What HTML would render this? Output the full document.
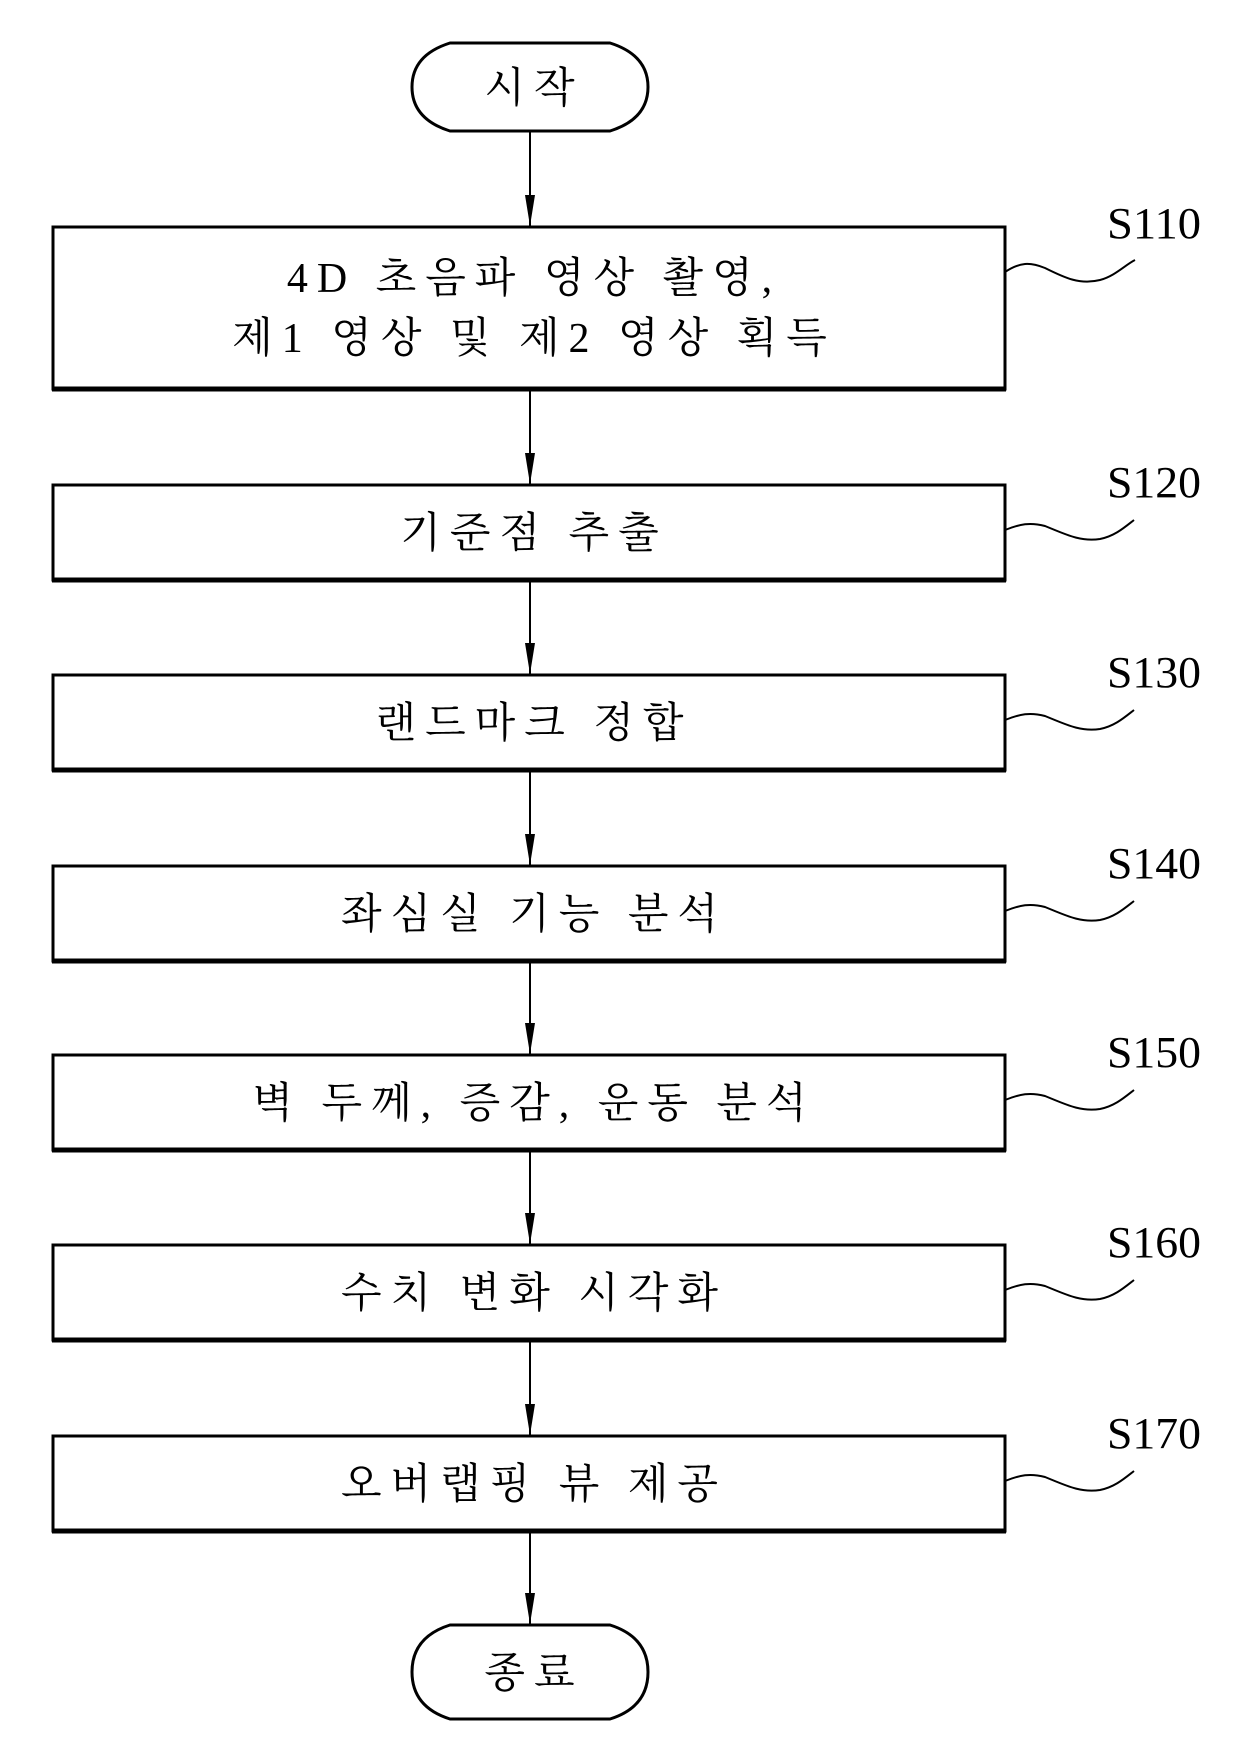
<!DOCTYPE html>
<html><head><meta charset="utf-8"><style>
html,body{margin:0;padding:0;background:#fff;}
svg{display:block;}
.t{font-family:"Liberation Serif","Noto Serif CJK SC","Noto Sans CJK KR",serif;font-size:42px;letter-spacing:9px;fill:#000;text-anchor:middle;}
.l{font-family:"Liberation Serif",serif;font-size:44px;fill:#000;}
</style></head><body>
<svg width="1240" height="1748" viewBox="0 0 1240 1748" xmlns="http://www.w3.org/2000/svg">
<g fill="none" stroke="#000">
<path d="M450,43 L610,43 Q648,55 648,87 Q648,119 610,131 L450,131 Q412,119 412,87 Q412,55 450,43 Z" stroke-width="3"/>
<path d="M450,1625 L610,1625 Q648,1637 648,1672 Q648,1707 610,1719 L450,1719 Q412,1707 412,1672 Q412,1637 450,1625 Z" stroke-width="3"/>
</g>
<g fill="#fff" stroke="#000" stroke-width="3">
<rect x="53" y="227" width="952" height="162"/>
<rect x="53" y="485" width="952" height="95"/>
<rect x="53" y="675" width="952" height="95"/>
<rect x="53" y="866" width="952" height="95"/>
<rect x="53" y="1055" width="952" height="95"/>
<rect x="53" y="1245" width="952" height="95"/>
<rect x="53" y="1436" width="952" height="95"/>
</g>
<g stroke="#000" stroke-width="5">
<line x1="52" y1="389" x2="1006" y2="389"/>
<line x1="52" y1="580" x2="1006" y2="580"/>
<line x1="52" y1="770" x2="1006" y2="770"/>
<line x1="52" y1="961" x2="1006" y2="961"/>
<line x1="52" y1="1150" x2="1006" y2="1150"/>
<line x1="52" y1="1340" x2="1006" y2="1340"/>
<line x1="52" y1="1531" x2="1006" y2="1531"/>
</g>
<g stroke="#000" stroke-width="2">
<line x1="530" y1="131" x2="530" y2="226"/>
<line x1="530" y1="391" x2="530" y2="484"/>
<line x1="530" y1="582" x2="530" y2="674"/>
<line x1="530" y1="772" x2="530" y2="865"/>
<line x1="530" y1="963" x2="530" y2="1054"/>
<line x1="530" y1="1152" x2="530" y2="1244"/>
<line x1="530" y1="1342" x2="530" y2="1435"/>
<line x1="530" y1="1533" x2="530" y2="1624"/>
</g>
<g fill="#000">
<polygon points="525,195 535,195 530,226"/>
<polygon points="525,453 535,453 530,484"/>
<polygon points="525,643 535,643 530,674"/>
<polygon points="525,834 535,834 530,865"/>
<polygon points="525,1023 535,1023 530,1054"/>
<polygon points="525,1213 535,1213 530,1244"/>
<polygon points="525,1404 535,1404 530,1435"/>
<polygon points="525,1593 535,1593 530,1624"/>
</g>
<g fill="none" stroke="#000" stroke-width="2">
<path d="M1005,272 C1020,262 1030,262 1045,268 C1065,278 1080,285 1100,280 C1115,276 1125,265 1135,260"/>
<path d="M1005,530 C1020,524 1030,522 1045,526 C1065,534 1080,542 1100,539 C1115,536 1125,527 1134,520"/>
<path d="M1005,720 C1020,714 1030,712 1045,716 C1065,724 1080,732 1100,729 C1115,726 1125,717 1134,710"/>
<path d="M1005,911 C1020,905 1030,903 1045,907 C1065,915 1080,923 1100,920 C1115,917 1125,908 1134,901"/>
<path d="M1005,1100 C1020,1094 1030,1092 1045,1096 C1065,1104 1080,1112 1100,1109 C1115,1106 1125,1097 1134,1090"/>
<path d="M1005,1290 C1020,1284 1030,1282 1045,1286 C1065,1294 1080,1302 1100,1299 C1115,1296 1125,1287 1134,1280"/>
<path d="M1005,1481 C1020,1475 1030,1473 1045,1477 C1065,1485 1080,1493 1100,1490 C1115,1487 1125,1478 1134,1471"/>
</g>
<g class="l">
<text x="1107" y="238" textLength="94" lengthAdjust="spacingAndGlyphs">S110</text>
<text x="1107" y="497" textLength="94" lengthAdjust="spacingAndGlyphs">S120</text>
<text x="1107" y="687" textLength="94" lengthAdjust="spacingAndGlyphs">S130</text>
<text x="1107" y="878" textLength="94" lengthAdjust="spacingAndGlyphs">S140</text>
<text x="1107" y="1067" textLength="94" lengthAdjust="spacingAndGlyphs">S150</text>
<text x="1107" y="1257" textLength="94" lengthAdjust="spacingAndGlyphs">S160</text>
<text x="1107" y="1448" textLength="94" lengthAdjust="spacingAndGlyphs">S170</text>
</g>
<g class="t">
<text x="534" y="102">시작</text>
<text x="534" y="292">4D 초음파 영상 촬영,</text>
<text x="534" y="352">제1 영상 및 제2 영상 획득</text>
<text x="534" y="547">기준점 추출</text>
<text x="534" y="737">랜드마크 정합</text>
<text x="534" y="928">좌심실 기능 분석</text>
<text x="534" y="1117">벽 두께, 증감, 운동 분석</text>
<text x="534" y="1307">수치 변화 시각화</text>
<text x="534" y="1498">오버랩핑 뷰 제공</text>
<text x="534" y="1687">종료</text>
</g>
</svg>
</body></html>
